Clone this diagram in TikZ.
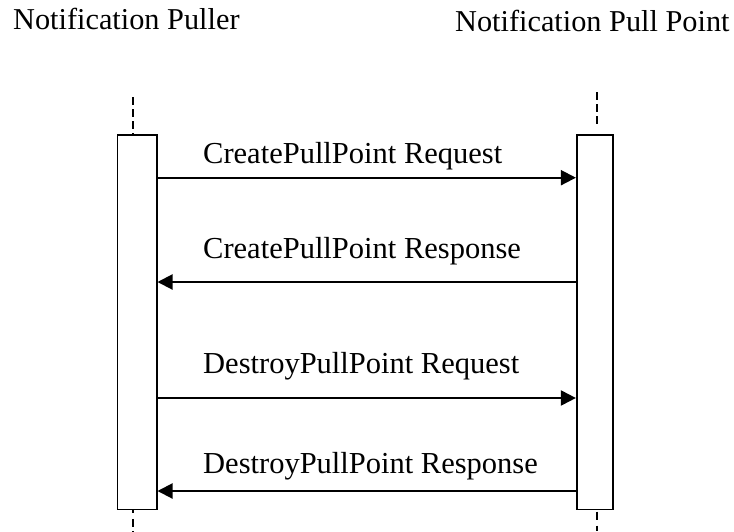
\documentclass[tikz,border=0pt]{standalone}
\usepackage{fontspec}
\setmainfont{Liberation Serif}
\usetikzlibrary{arrows.meta}
\begin{document}
\begin{tikzpicture}[x=1pt,y=-1pt,
 lifebox/.style={draw,line width=1.6pt,minimum height=374.7pt,inner sep=0pt,anchor=north},
 msg/.style={line width=2pt,-{Triangle[length=15pt,width=15pt]}},
 lifeline/.style={line width=1.6pt,dash pattern=on 8pt off 4pt},
 lbl/.style={font=\fontsize{30.5}{33}\selectfont,anchor=base west,inner sep=0pt},
 ttl/.style={font=\fontsize{30.3}{33}\selectfont,anchor=base west,inner sep=0pt}]
\useasboundingbox (0,0) rectangle (734,531);
\node[ttl] (t1) at (13,29.5) {Notification Puller};
\node[ttl] (t2) at (455,31.7) {Notification Pull Point};
\node[lifebox,minimum width=39.4pt] (lb) at (137,134) {};
\node[lifebox,minimum width=36pt] (rb) at (594.7,134) {};
\coordinate (lt) at (132.7,97);
\coordinate (rt) at (596.7,92);
\coordinate (rte) at (596.7,127);
\coordinate (lbe) at (132.7,531);
\coordinate (rbe) at (596.7,531);
\draw[lifeline] (lt) -- (lt |- lb.north);
\draw[lifeline] (rt) -- (rte);
\draw[line width=1.6pt,dash pattern=on 2.5pt off 6pt on 8pt off 4pt] (lbe |- lb.south) -- (lbe);
\draw[line width=1.6pt,dash pattern=on 8pt off 6pt] (596.7,511.7) coordinate (rbs) -- (rbe);
\coordinate (m1) at (0,177.7);
\coordinate (m2) at (0,282);
\coordinate (m3) at (0,398);
\coordinate (m4) at (0,491);
\draw[msg] (lb.east |- m1) -- (rb.west |- m1);
\draw[msg] (rb.west |- m2) -- (lb.east |- m2);
\draw[msg] (lb.east |- m3) -- (rb.west |- m3);
\draw[msg] (rb.west |- m4) -- (lb.east |- m4);
\node[lbl] (l1) at (203,163) {CreatePullPoint Request};
\node[lbl] (l2) at (203,258) {CreatePullPoint Response};
\node[lbl] (l3) at (203,373) {DestroyPullPoint Request};
\node[lbl] (l4) at (203,473) {DestroyPullPoint Response};
\end{tikzpicture}
\end{document}
